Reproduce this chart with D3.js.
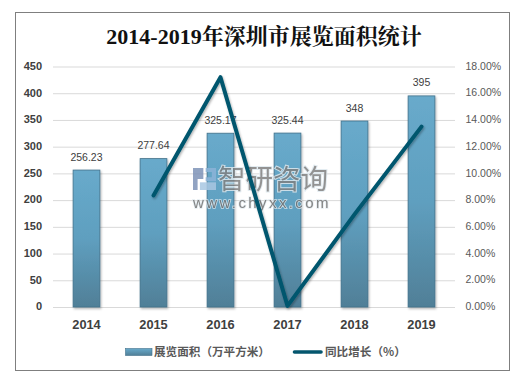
<!DOCTYPE html>
<html><head><meta charset="utf-8">
<script src="https://cdnjs.cloudflare.com/ajax/libs/d3/7.8.5/d3.min.js"></script>
<style>html,body{margin:0;padding:0;background:#fff}svg{display:block}</style></head>
<body><svg id="c" width="521" height="380"></svg>
<script>
const years=["2014","2015","2016","2017","2018","2019"];
const area=[256.23,277.64,325.17,325.44,348,395];
const areaLabels=["256.23","277.64","325.17","325.44","348","395"];
const growth=[null,8.35,17.2,0.08,6.93,13.5];
const leftTicks=[0,50,100,150,200,250,300,350,400,450];
const rightTicks=[0,2,4,6,8,10,12,14,16,18];
const titleText="2014-2019年深圳市展览面积统计";
const legendBar="展览面积（万平方米）";
const legendLine="同比增长（%）";
const sans="'Liberation Sans','Noto Sans CJK SC',sans-serif";
const cjk="'Noto Sans CJK SC',sans-serif";

const svg=d3.select("#c");
const defs=svg.append("defs");
const g=defs.append("linearGradient").attr("id","bar").attr("x1",0).attr("y1",0).attr("x2",0).attr("y2",1);
g.append("stop").attr("offset","0%").attr("stop-color","#68aacb");
g.append("stop").attr("offset","50%").attr("stop-color","#5f9fbf");
g.append("stop").attr("offset","100%").attr("stop-color","#507f97");
const lg=defs.append("linearGradient").attr("id","legbar").attr("x1",0).attr("y1",0).attr("x2",0).attr("y2",1);
lg.append("stop").attr("offset","0%").attr("stop-color","#68aacb");
lg.append("stop").attr("offset","100%").attr("stop-color","#507f97");
const sh=defs.append("filter").attr("id","sh").attr("x","-20%").attr("y","-20%").attr("width","140%").attr("height","140%");
sh.append("feDropShadow").attr("dx",1).attr("dy",1.5).attr("stdDeviation",1.2).attr("flood-color","#000").attr("flood-opacity",0.3);

svg.append("rect").attr("x",15.5).attr("y",12.5).attr("width",494).attr("height",358)
  .attr("fill","#fff").attr("stroke","#7f7f7f").attr("stroke-width",1);

svg.append("text").attr("x",264).attr("y",44).attr("text-anchor","middle")
  .attr("font-family","'Liberation Serif','Noto Serif CJK SC','Noto Sans CJK SC',serif")
  .attr("font-size",22).attr("font-weight","bold").attr("fill","#111").text(titleText);

const x=d3.scaleBand().domain(years).range([53,455]).paddingInner(0.6).paddingOuter(0.3);
const y=d3.scaleLinear().domain([0,450]).range([307,66.5]);
const y2=d3.scaleLinear().domain([0,18]).range([307,66.5]);
const cx=d=>x(d)+x.bandwidth()/2;

const gl=svg.append("g")
  .call(d3.axisLeft(y).tickValues(leftTicks).tickSize(0).tickPadding(0));
gl.select(".domain").remove();
gl.selectAll("text").remove();
gl.selectAll(".tick").append("line").attr("x1",53).attr("x2",455).attr("stroke","#d9d9d9").attr("stroke-width",1);
gl.selectAll(".tick").append("text").attr("x",42).attr("y",-1).attr("dy","0.35em").attr("text-anchor","end")
  .attr("font-family",sans).attr("font-size",11).attr("font-weight","bold").attr("fill","#404040").text(d=>d);

const gr=svg.append("g").call(d3.axisRight(y2).tickValues(rightTicks).tickSize(0));
gr.select(".domain").remove();
gr.selectAll("text").attr("x",465.5).attr("y",-1).attr("dy","0.35em").attr("text-anchor","start")
  .attr("font-family",sans).attr("font-size",10.5).attr("fill","#595959").text(d=>d3.format(".2f")(d)+"%");

svg.append("g").selectAll("rect").data(years).join("rect")
  .attr("x",d=>x(d)).attr("width",x.bandwidth())
  .attr("y",(d,i)=>y(area[i])).attr("height",(d,i)=>y(0)-y(area[i]))
  .attr("fill","url(#bar)").attr("stroke","#41708a").attr("stroke-width",0.8).attr("filter","url(#sh)");

svg.append("g").selectAll("text").data(years).join("text")
  .attr("x",d=>cx(d)).attr("y",(d,i)=>y(area[i])-9.5).attr("text-anchor","middle")
  .attr("font-family",sans).attr("font-size",10.5).attr("fill","#404040").text((d,i)=>areaLabels[i]);

// watermark
const wm=svg.append("g").attr("opacity",0.85);
const logoX=d3.scaleLinear().domain([0,1]).range([193,216]);
const logoY=d3.scaleLinear().domain([0,1]).range([168,190]);
wm.append("path").attr("d",`M${logoX(0)},${logoY(0)}H${logoX(.45)}V${logoY(.5)}H${logoX(.2)}V${logoY(1)}H${logoX(0)}Z`).attr("fill","#7e93b8");
wm.append("path").attr("d",`M${logoX(.55)},${logoY(0)}H${logoX(1)}V${logoY(.6)}H${logoX(.55)}V${logoY(.42)}H${logoX(.82)}V${logoY(.18)}H${logoX(.55)}Z`).attr("fill","#8db4d8");
wm.append("path").attr("d",`M${logoX(.3)},${logoY(.65)}H${logoX(1)}V${logoY(1)}H${logoX(.3)}Z`).attr("fill","#a9c7e2");
wm.append("text").attr("x",218).attr("y",188.5).attr("font-family",cjk).attr("font-size",27.5)
  .attr("fill","#808080").attr("stroke","#dfe9ef").attr("stroke-width",2).attr("paint-order","stroke").text("智研咨询");
wm.append("text").attr("x",193).attr("y",208).attr("font-family",sans).attr("font-size",15).attr("letter-spacing",2.4)
  .attr("fill","#707070").attr("stroke","#dfe9ef").attr("stroke-width",1.5).attr("paint-order","stroke").text("www.chyxx.com");

const line=d3.line().defined(d=>d[1]!==null).x(d=>cx(d[0])).y(d=>y2(d[1]));
svg.append("path").datum(years.map((d,i)=>[d,growth[i]])).attr("d",line)
  .attr("fill","none").attr("stroke","#04566e").attr("stroke-width",4)
  .attr("stroke-linecap","round").attr("stroke-linejoin","round").attr("filter","url(#sh)");

svg.append("g").selectAll("text").data(years).join("text")
  .attr("x",d=>cx(d)).attr("y",329).attr("text-anchor","middle")
  .attr("font-family",sans).attr("font-size",12.8).attr("font-weight","bold").attr("fill","#404040").text(d=>d);

svg.append("rect").attr("x",125.5).attr("y",348.5).attr("width",26.5).attr("height",7)
  .attr("fill","url(#legbar)").attr("stroke","#41708a").attr("stroke-width",0.6);
svg.append("text").attr("x",154).attr("y",356).attr("font-family",cjk).attr("font-size",11.6).attr("font-weight","bold").attr("fill","#595959").text(legendBar);
svg.append("line").attr("x1",294.5).attr("x2",321).attr("y1",352).attr("y2",352)
  .attr("stroke","#04566e").attr("stroke-width",3.6).attr("stroke-linecap","round");
svg.append("text").attr("x",325).attr("y",356).attr("font-family",cjk).attr("font-size",11.6).attr("font-weight","bold").attr("fill","#595959").text(legendLine);
</script></body></html>
